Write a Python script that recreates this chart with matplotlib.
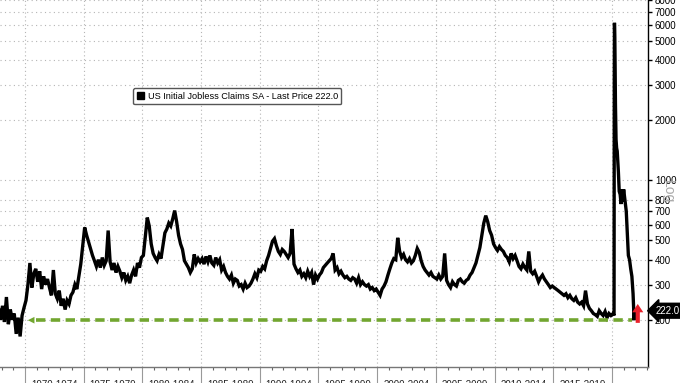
import numpy as np
import matplotlib
matplotlib.use("Agg")
import matplotlib.pyplot as plt
from matplotlib.patches import Patch
from matplotlib.transforms import blended_transform_factory

plt.rcParams['font.family'] = ['Liberation Sans', 'DejaVu Sans']

# 每年6个点（约两个月一个），单位：千人
claims_1967_1969 = [225, 205, 240, 210, 230, 200,
                    235, 195, 260, 190, 225, 200,
                    215, 170, 205, 165, 210, 230]
claims_1970s = [250, 300, 385, 290, 340, 360,
                310, 350, 285, 330, 300, 320,
                290, 265, 355, 270, 255, 280,
                235, 255, 225, 250, 240, 265,
                275, 300, 285, 330, 380, 470,
                580, 530, 490, 455, 420, 395,
                370, 400, 365, 410, 375, 395,
                560, 390, 355, 385, 345, 370,
                350, 325, 345, 315, 330, 305,
                335, 355, 330, 385, 365, 410]
claims_1980s = [420, 520, 650, 590, 480, 430,
                410, 395, 425, 405, 470, 545,
                570, 610, 590, 640, 705, 620,
                530, 480, 450, 395, 380, 365,
                345, 360, 425, 385, 405, 390,
                405, 380, 415, 390, 420, 385,
                375, 410, 385, 400, 355, 370,
                345, 330, 320, 335, 305, 320,
                315, 295, 300, 285, 305, 290,
                295, 305, 320, 340, 325, 355]
claims_1990s = [350, 370, 360, 395, 420, 455,
                495, 510, 470, 440, 425, 450,
                440, 425, 410, 430, 570, 380,
                360, 345, 355, 330, 340, 325,
                350, 330, 345, 300, 335, 320,
                335, 345, 365, 375, 385, 395,
                405, 430, 355, 365, 340, 350,
                335, 325, 330, 320, 315, 325,
                320, 305, 325, 300, 310, 300,
                295, 300, 285, 290, 280, 285]
claims_2000s = [275, 265, 285, 295, 310, 335,
                360, 385, 405, 400, 515, 440,
                410, 425, 400, 390, 405, 385,
                395, 420, 455, 435, 395, 370,
                355, 345, 335, 345, 330, 325,
                320, 335, 320, 330, 430, 315,
                300, 290, 310, 300, 295, 315,
                320, 310, 305, 315, 320, 335,
                345, 365, 385, 420, 460, 530,
                610, 665, 620, 560, 530, 480]
claims_2010s = [460, 445, 465, 450, 440, 420,
                410, 390, 430, 405, 420, 395,
                370, 360, 380, 365, 355, 440,
                350, 340, 350, 330, 310, 325,
                335, 320, 310, 300, 290, 295,
                290, 285, 280, 275, 270, 265,
                270, 258, 265, 255, 250, 258,
                245, 240, 245, 235, 280, 240,
                228, 222, 215, 212, 208, 222,
                215, 210, 220, 205, 215, 210]

# 2020-2021 疫情期间
dates_2020s = [2020.00, 2020.10, 2020.18, 2020.20, 2020.215, 2020.24, 2020.27,
               2020.30, 2020.35, 2020.40, 2020.45, 2020.55, 2020.62, 2020.70,
               2020.78, 2020.85, 2020.92, 2021.00, 2021.08, 2021.15, 2021.22,
               2021.30, 2021.40, 2021.50, 2021.60, 2021.70, 2021.80, 2021.89,
               2021.91]
claims_2020s = [212, 215, 210, 3300, 6150, 5200, 3800,
                2400, 1600, 1450, 1400, 1100, 880, 850,
                760, 900, 780, 900, 820, 760, 700,
                560, 420, 400, 360, 330, 270, 199,
                222]

last_price = 222.0
low_level = 199
y_ticks = [200, 300, 400, 500, 600, 700, 800, 1000, 2000, 3000, 4000, 5000, 6000, 7000, 8000]
period_labels = ['1970-1974', '1975-1979', '1980-1984', '1985-1989', '1990-1994',
                 '1995-1999', '2000-2004', '2005-2009', '2010-2014', '2015-2019']

early = (claims_1967_1969 + claims_1970s + claims_1980s + claims_1990s
         + claims_2000s + claims_2010s)
early_dates = 1967 + (np.arange(len(early)) + 0.5) / 6
dates = np.concatenate([early_dates, dates_2020s])
claims = np.array(early + claims_2020s)

fig = plt.figure(figsize=(6.8, 3.83), dpi=100)
ax = fig.add_axes([0.0, 0.0418, 0.9529, 0.9582])

ax.plot(dates, claims, color='black', lw=2.4, solid_joinstyle='miter')

ax.set_yscale('log')
ax.set_xlim(1967.87, 2023.07)
ax.set_ylim(116, 8000)

# 网格
for yr in range(1970, 2021, 5):
    ax.axvline(yr, color='#b5b5b5', lw=0.8, ls=(0, (1, 2.5)), zorder=0)
for v in y_ticks:
    ax.axhline(v, color='#b5b5b5', lw=0.8, ls=(0, (1, 3)), zorder=0)

# 坐标轴
ax.yaxis.tick_right()
ax.yaxis.set_major_locator(matplotlib.ticker.FixedLocator(y_ticks))
ax.yaxis.set_minor_locator(matplotlib.ticker.NullLocator())
ax.set_yticklabels([str(v) for v in y_ticks])
ax.tick_params(axis='y', which='major', direction='out', length=3, width=1,
               labelsize=7, colors='black', pad=2)

ax.set_xticks(range(1970, 2021, 5))
ax.set_xticks(range(1968, 2024), minor=True)
ax.set_xticklabels([])
ax.tick_params(axis='x', which='major', direction='out', length=12, width=0.8, color='#999999')
ax.tick_params(axis='x', which='minor', direction='out', length=2.5, width=0.8, color='#666666')

for s in ['left', 'top']:
    ax.spines[s].set_visible(False)
ax.spines['right'].set_color('black')
ax.spines['right'].set_linewidth(1)
ax.spines['bottom'].set_color('#777777')
ax.spines['bottom'].set_linewidth(1)

trans = blended_transform_factory(ax.transData, ax.transAxes)
for i, lab in enumerate(period_labels):
    ax.text(1972.5 + 5 * i, -0.035, lab, transform=trans, ha='center', va='top',
            fontsize=7, color='#222222', clip_on=False)

# 绿色虚线箭头
green = '#72a630'
ax.plot([1970.9, 2021.75], [low_level, low_level], color=green, lw=2.6,
        ls=(0, (2.6, 1.5)), solid_capstyle='butt')
ax.annotate('', xy=(1970.0, low_level), xytext=(1971.0, low_level),
            arrowprops=dict(arrowstyle='-|>', color=green, lw=0, mutation_scale=12))

# 红色向上箭头
ax.annotate('', xy=(2022.2, 240), xytext=(2022.2, 193),
            arrowprops=dict(facecolor='#e8202a', edgecolor='none', width=3,
                            headwidth=8, headlength=6))

# 最新价格标签
ytrans = blended_transform_factory(ax.transAxes, ax.transData)
ax.text(1.012, last_price, f'{last_price:.1f}', transform=ytrans, ha='left', va='center',
        fontsize=7, color='white', clip_on=False,
        bbox=dict(boxstyle='larrow,pad=0.25', facecolor='black', edgecolor='black'))

fig.text(0.982, 0.50, 'Log', rotation=270, color='#aaaaaa', fontsize=10,
         ha='center', va='center')

# 图例
leg = ax.legend([Patch(facecolor='black', edgecolor='black')],
                ['US Initial Jobless Claims SA - Last Price 222.0'],
                loc='upper left', bbox_to_anchor=(0.205, 0.760), borderaxespad=0,
                fontsize=6.6, handlelength=0.8, handleheight=0.8, handletextpad=0.4,
                borderpad=0.4, fancybox=True, framealpha=1, edgecolor='#555555')
leg.get_frame().set_linewidth(1)

fig.savefig('out.png', dpi=100)
